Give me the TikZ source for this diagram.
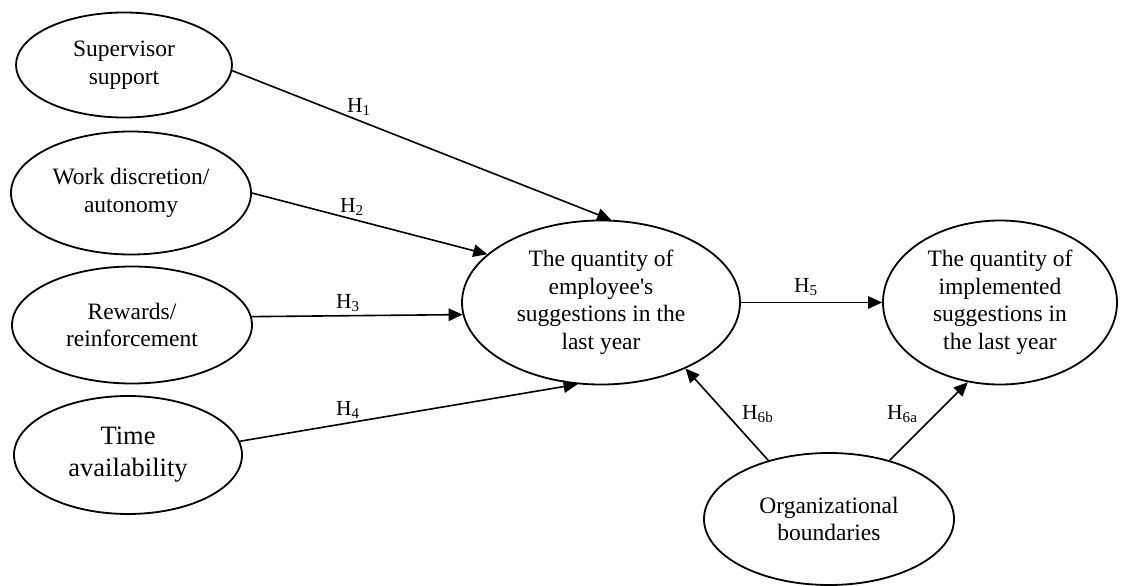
\documentclass[tikz,border=0pt]{standalone}
\usepackage{fontspec}
\setmainfont{Liberation Serif}[Ligatures=TeXOff]
\usetikzlibrary{shapes.geometric,arrows.meta}
\begin{document}
\begin{tikzpicture}[x=1pt,y=-1pt,
  construct/.style={draw, ellipse, line width=1.8pt, inner sep=0pt, align=center,
    font=\fontsize{23.5}{27.5}\selectfont},
  path/.style={line width=1.6pt, -{Triangle[length=14pt,width=12.5pt]}},
  hlabel/.style={anchor=base west, inner sep=0pt, font=\fontsize{21.5}{24}\selectfont}]
\useasboundingbox (0,0) rectangle (1122,586);
\node[construct, minimum width=216pt, minimum height=105pt] (sup) at (124,65) {Supervisor\\support};
\node[construct, minimum width=240pt, minimum height=123pt] (work) at (131,193) {Work discretion/\\autonomy};
\node[construct, minimum width=240pt, minimum height=117pt] (rew) at (132,325) {Rewards/\\reinforcement};
\node[construct, minimum width=228pt, minimum height=118pt, font=\fontsize{26.5}{32}\selectfont] (time) at (128,455) {Time\\availability};
\node[construct, minimum width=278pt, minimum height=164pt] (emp) at (601,302.5) {The quantity of\\employee's\\suggestions in the\\last year};
\node[construct, minimum width=234pt, minimum height=164pt] (impl) at (1000,302.5) {The quantity of\\implemented\\suggestions in\\the last year};
\node[construct, minimum width=250pt, minimum height=132pt] (org) at (829,519) {Organizational\\boundaries};

\draw[path] (sup.-3.2) -- (emp.83.7);
\draw[path] (work.0) -- (emp.157.1);
\draw[path] (rew.4.3) -- (emp.185.3);
\draw[path] (time.7.1) -- (emp.254.3);
\draw[path] (emp.east) -- (impl.west);
\draw[path] (org.136) -- (emp.-38.7);
\draw[path] (org.44) -- (impl.248.3);

\node[hlabel] (h1) at (347,112) {H\textsubscript{1}};
\node[hlabel] (h2) at (340,212) {H\textsubscript{2}};
\node[hlabel] (h3) at (336,308) {H\textsubscript{3}};
\node[hlabel] (h4) at (336,415) {H\textsubscript{4}};
\node[hlabel] (h5) at (794,292) {H\textsubscript{5}};
\node[hlabel] (h6b) at (742,419) {H\textsubscript{6b}};
\node[hlabel] (h6a) at (887,419) {H\textsubscript{6a}};
\end{tikzpicture}
\end{document}
